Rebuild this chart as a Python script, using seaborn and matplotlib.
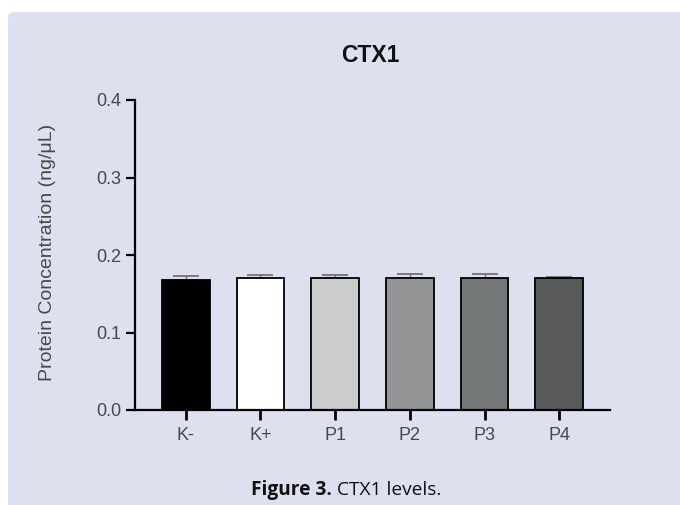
import matplotlib
matplotlib.use("Agg")
import matplotlib.pyplot as plt
from matplotlib.patches import FancyBboxPatch
import seaborn as sns
import pandas as pd

# Group labels, mean protein concentration and upper SEM
groups = ["K-", "K+", "P1", "P2", "P3", "P4"]
concentration = [0.168, 0.170, 0.170, 0.170, 0.170, 0.170]
sem = [0.005, 0.004, 0.004, 0.0055, 0.006, 0.0015]
bar_colors = ["#000000", "#ffffff", "#cbcdcd", "#939598", "#737877", "#575a5b"]
y_ticks = [0.0, 0.1, 0.2, 0.3, 0.4]

sns.set_theme(style="ticks")
plt.rcParams["font.family"] = ["Liberation Sans", "DejaVu Sans"]

W, H = 680, 505
fig = plt.figure(figsize=(W / 100, H / 100), dpi=100, facecolor="white")

# Lavender panel behind the figure
panel = FancyBboxPatch((8 / 100, -0.3), 7.5, (H - 12) / 100 + 0.3,
                       boxstyle="round,pad=0,rounding_size=0.06",
                       transform=fig.dpi_scale_trans, facecolor="#dde0ef",
                       edgecolor="none", zorder=-5)
fig.patches.append(panel)

ax = fig.add_axes([135 / W, (H - 410) / H, 475 / W, 310 / H])
ax.set_facecolor("none")
ax.set_zorder(2)

df = pd.DataFrame({"group": groups, "value": concentration})
sns.barplot(data=df, x="group", y="value", hue="group", palette=bar_colors,
            width=0.64, edgecolor="black", linewidth=1.3, legend=False,
            errorbar=None, ax=ax, zorder=3)

# Upper-only error bars
ax.errorbar(range(len(groups)), concentration,
            yerr=[[0] * len(sem), sem], fmt="none", ecolor="#6a6a6a",
            elinewidth=1.0, capsize=9.5, capthick=1.2, zorder=2)

ax.set_xlim(-0.68, 5.68)
ax.set_ylim(0, 0.4)
ax.set_yticks(y_ticks)
ax.set_yticklabels([f"{t:.1f}" for t in y_ticks])
ax.set_xlabel("")
ax.set_ylabel("")

for side in ("top", "right"):
    ax.spines[side].set_visible(False)
for side in ("left", "bottom"):
    ax.spines[side].set_linewidth(1.6)
    ax.spines[side].set_color("black")
ax.spines["bottom"].set_zorder(5)

label_grey = "#484848"
ax.tick_params(axis="y", length=6.5, width=1.6, color="black", pad=3.5,
               labelsize=13, labelcolor=label_grey)
ax.tick_params(axis="x", length=7.5, width=2.0, color="black", pad=4.5,
               labelsize=13, labelcolor=label_grey)

fig.text(48 / W, 1 - 252 / H, "Protein Concentration (ng/\u03bcL)", rotation=90,
         ha="center", va="center", fontsize=14, color=label_grey)

fig.text(370 / W, 1 - 55 / H, "CTX1", ha="center", va="center",
         fontsize=16.5, fontweight="bold", color="#111111")

# Caption: bold figure number followed by regular text
cap_font = ["Open Sans", "DejaVu Sans"]
t1 = fig.text(251 / W, 1 - 495 / H, "Figure 3.", ha="left", va="baseline",
              fontsize=13.8, fontweight="bold", family=cap_font, color="#111111")
fig.canvas.draw()
bb = t1.get_window_extent(renderer=fig.canvas.get_renderer())
fig.text((bb.x1 + 5) / W, 1 - 495 / H, "CTX1 levels.", ha="left", va="baseline",
         fontsize=13.8, family=cap_font, color="#111111")

fig.savefig("out.png", dpi=100, facecolor="white")
